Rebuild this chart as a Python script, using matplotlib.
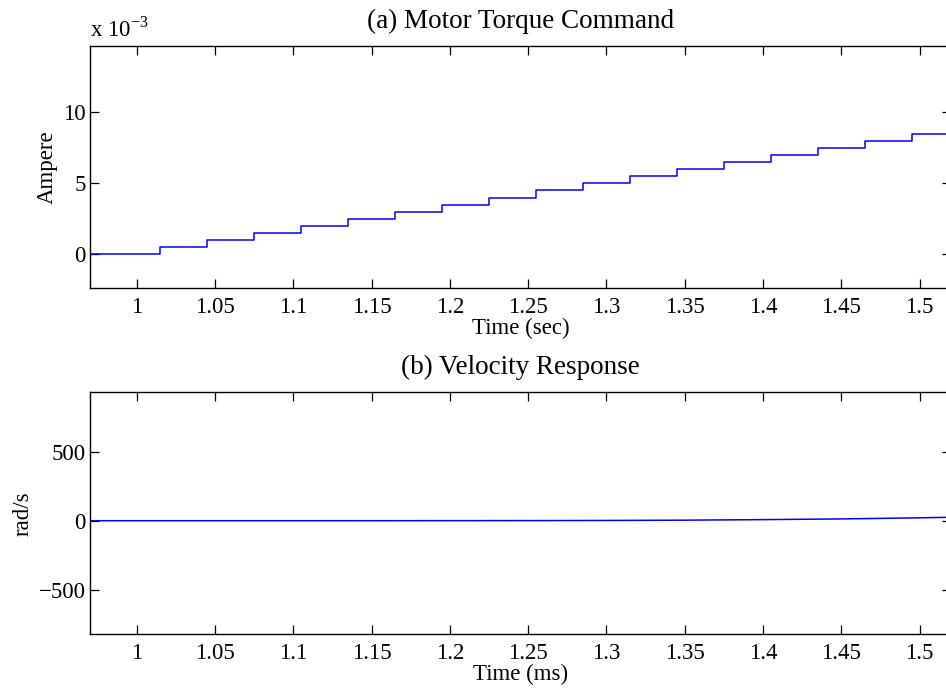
import matplotlib.pyplot as plt

plt.rcParams['font.family'] = ['Liberation Serif', 'DejaVu Serif']
plt.rcParams['font.size'] = 16.5
plt.rcParams['mathtext.fontset'] = 'custom'
plt.rcParams['mathtext.rm'] = 'Liberation Serif'

# torque command: staircase, value held after each switching time
step_times = [0.97, 1.015, 1.045, 1.075, 1.105, 1.135, 1.165, 1.195, 1.225,
              1.255, 1.285, 1.315, 1.345, 1.375, 1.405, 1.435, 1.465, 1.495, 1.52]
torque_mA = [0.0, 0.5, 1.0, 1.5, 2.0, 2.5, 3.0, 3.5, 4.0,
             4.5, 5.0, 5.5, 6.0, 6.5, 7.0, 7.5, 8.0, 8.5, 8.5]

# velocity response (rad/s)
vel_t = [0.97, 1.05, 1.1, 1.15, 1.2, 1.25, 1.3, 1.35, 1.4, 1.45, 1.5, 1.52]
vel = [0.0, 0.0, 0.0, 0.2, 0.5, 1.0, 2.0, 4.0, 8.0, 13.0, 21.0, 25.0]

xticks = [1, 1.05, 1.1, 1.15, 1.2, 1.25, 1.3, 1.35, 1.4, 1.45, 1.5]
xticklabels = ['1', '1.05', '1.1', '1.15', '1.2', '1.25', '1.3', '1.35', '1.4', '1.45', '1.5']

fig = plt.figure(figsize=(9.46, 6.9), dpi=100)
ax1 = fig.add_axes([0.0951, 0.5822, 0.91, 0.3511])
ax2 = fig.add_axes([0.0951, 0.0807, 0.91, 0.3507])

for ax in (ax1, ax2):
    ax.set_xlim(0.97, 1.52)
    ax.set_xticks(xticks)
    ax.set_xticklabels(xticklabels)
    ax.tick_params(direction='in', length=6.5, width=0.9, top=True, right=True)
    ax.tick_params(axis='x', pad=6)
    ax.tick_params(axis='y', pad=3)
    for s in ax.spines.values():
        s.set_linewidth(1.0)

ax1.step(step_times, [v * 1e-3 for v in torque_mA], where='post', color='#0000ff', lw=1.1)
ax1.set_ylim(-2.39e-3, 14.67e-3)
ax1.set_yticks([0, 5e-3, 10e-3])
ax1.set_yticklabels(['0', '5', '10'])
ax1.set_ylabel('Ampere', labelpad=4)
ax1.set_xlabel('Time (sec)', labelpad=0)
ax1.set_title('(a) Motor Torque Command', pad=13, fontsize=19.5)
ax1.text(0.0, 1.02, r'x 10$^{-3}$', transform=ax1.transAxes, ha='left', va='bottom')

ax2.plot(vel_t, vel, color='#0000ff', lw=1.1)
ax2.set_ylim(-821, 928)
ax2.set_yticks([-500, 0, 500])
ax2.set_yticklabels(['\u2212500', '0', '500'])
ax2.set_ylabel('rad/s', labelpad=4)
ax2.set_xlabel('Time (ms)', labelpad=0)
ax2.set_title('(b) Velocity Response', pad=13, fontsize=19.5)

fig.savefig('out.png', dpi=100)
